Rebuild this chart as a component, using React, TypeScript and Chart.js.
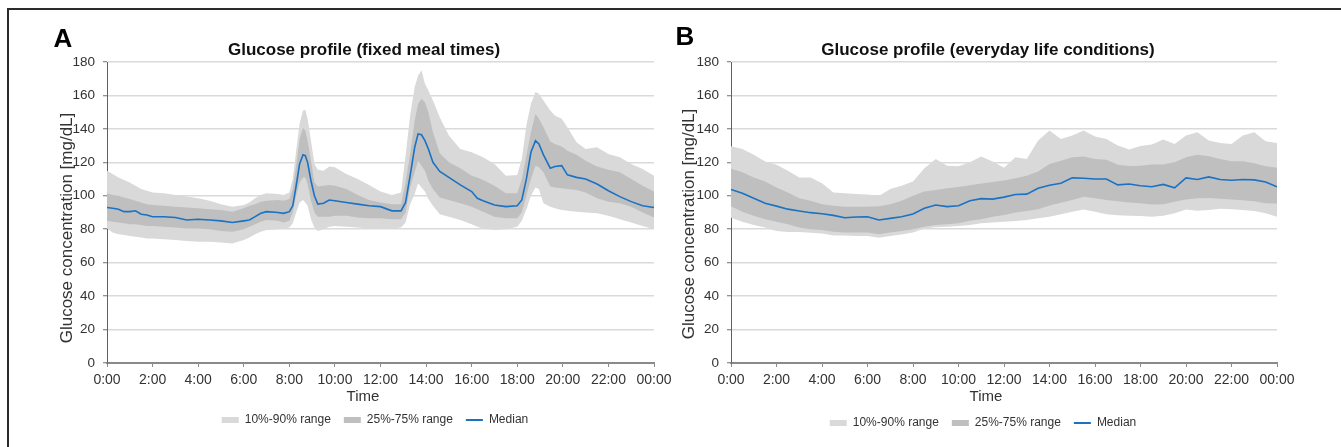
import React, { useEffect, useRef } from "react";
import { Chart, registerables } from "chart.js";

Chart.register(...registerables);

// ---------- Panel A: fixed meal times ----------
const timesA = [
  0, 0.25, 0.5, 0.75, 1, 1.25, 1.5, 1.75, 2, 2.5, 3, 3.5, 4, 4.5, 5, 5.5, 6, 6.25, 6.5, 6.75,
  7, 7.5, 7.75, 8, 8.15, 8.3, 8.45, 8.6, 8.7, 8.8, 8.95, 9.1, 9.25, 9.5, 9.75, 10, 10.5, 11, 11.5, 12,
  12.5, 12.9, 13.1, 13.3, 13.5, 13.65, 13.8, 13.95, 14.1, 14.3, 14.6, 15, 15.5, 16, 16.25, 16.5, 17, 17.5, 18, 18.2,
  18.4, 18.6, 18.8, 18.95, 19.15, 19.45, 19.65, 19.95, 20.2, 20.6, 21, 21.5, 22, 22.5, 23, 23.5, 24,
];
const p10A = [
  80.5, 78, 77, 76.5, 76, 75.5, 75, 74.5, 74.5, 74, 73.5, 73, 72.5, 72.5, 72, 71.5, 73.5, 75, 77, 78.5,
  79.5, 80, 80.5, 81, 83.5, 90, 96, 97.5, 96, 94, 86, 81, 79, 80, 81.5, 82, 81.5, 81, 80.5, 80.5,
  80.5, 81, 84, 95, 101, 107.5, 105, 102.5, 98, 94, 89, 87.5, 85.5, 83, 81.5, 80.5, 79.5, 80, 81.5, 85,
  92, 100, 105, 104, 95.5, 93.5, 92.5, 91.5, 91, 90.5, 90, 89.5, 88, 86, 84, 82, 80,
];
const p25A = [
  85, 84.5, 84, 83.5, 83, 83, 82.5, 82, 82, 81.5, 81, 80.5, 80.5, 80, 79, 78.5, 80, 81.5, 83, 84.5,
  85.5, 85, 84, 85, 90, 100, 108, 111, 111, 107, 97, 90, 87.5, 87.5, 87.5, 88, 88, 87, 86.5, 86.5,
  86, 86, 90, 105, 114, 121, 118, 115, 109, 104, 99, 97.5, 95.5, 93.5, 92, 90.5, 87.5, 86.5, 86.5, 90,
  100, 110, 118, 117, 114, 105.5, 105, 104.5, 104, 103.5, 102, 98.5, 96.5, 95.5, 93.5, 90, 87,
];
const medianA = [
  93, 92.5, 92, 90.5, 90.5, 91, 89, 88.5, 87.5, 87.5, 87, 85.5, 86, 85.5, 85, 84, 85, 85.5, 87.5, 89.5,
  90.5, 90, 89.5, 90.5, 94, 106, 119, 124.5, 124, 120, 109, 100, 95, 95.5, 97.5, 97, 96, 95, 94, 93.5,
  91, 91, 96, 112, 129, 137, 136.5, 133, 128, 120, 114.5, 111, 106.5, 102.5, 98.5, 97, 94.5, 93.5, 94, 97.5,
  110, 126, 133, 131, 124.5, 116.5, 117.5, 118, 112.5, 111, 110, 107, 103, 99.5, 96.5, 94, 93,
];
const p75A = [
  101.5, 100.5, 100, 99, 98, 97, 96, 95, 94.5, 94, 93.5, 93, 92.5, 92, 91.5, 90.5, 92.5, 94, 95, 96.5,
  97, 97.5, 97, 98, 104, 118, 134, 140.5, 139, 133, 121, 108, 105.5, 106, 106.5, 106, 104, 100.5, 97.5, 96,
  95, 95, 108, 125, 145, 155, 158, 156, 150, 138, 125.5, 120, 116.5, 112, 111, 109.5, 106, 101.5, 101.5, 110,
  124, 138, 149, 146, 141, 132.5, 131, 129.5, 127, 124.5, 121, 117.5, 115.5, 114, 110, 106, 102.5,
];
const p90A = [
  115, 113, 111, 109.5, 108, 106, 104, 103, 102, 101.5, 100.5, 99.5, 98.5, 97, 95, 93.5, 94.5, 96, 98.5, 100.5,
  101.5, 101, 100.5, 102, 110, 127, 143, 151, 151.5, 146, 133, 119, 115.5, 115, 117.5, 117, 113, 110, 106.5, 102.5,
  100.5, 102, 124, 148, 165, 172, 175, 167, 163, 157, 147, 136, 128, 126, 124.5, 123, 119, 112, 112.5, 122,
  142, 155, 162, 161, 157, 151, 148, 146, 141, 132, 128, 129, 125, 123, 119, 116, 112,
];

// ---------- Panel B: everyday life conditions ----------
const timesB = [
  0, 0.5, 1, 1.5, 2, 2.5, 3, 3.5, 4, 4.5, 5, 5.5, 6, 6.5, 7, 7.5, 8, 8.5, 9, 9.5,
  10, 10.5, 11, 11.5, 12, 12.5, 13, 13.5, 14, 14.5, 15, 15.5, 16, 16.5, 17, 17.5, 18, 18.5, 19, 19.5,
  20, 20.5, 21, 21.5, 22, 22.5, 23, 23.5, 24,
];
const p10B = [
  86.9, 84.5, 82.5, 81, 79, 78.3, 78.3, 77.9, 77.5, 76.3, 76.3, 76, 75.9, 74.9, 75.9, 76.9, 78, 80.5, 81.2, 81.5,
  81.9, 82.5, 83.5, 84, 84.5, 84.9, 85.5, 86.5, 87.5, 89, 90.5, 91.8, 90.5, 89, 88.3, 88, 87.9, 87.5, 88, 89.5,
  91.8, 91, 91.5, 92.2, 92, 91.5, 90.9, 89.5, 87.5,
];
const p25B = [
  93.8, 90.5, 88, 86, 84.5, 83, 81, 80, 79.5, 78.5, 78, 78, 78, 77, 78, 79, 80, 81.5, 82.5, 83,
  83.5, 85, 86, 87.5, 88.5, 90, 90.9, 92, 94.2, 95.8, 97.5, 99.4, 98.5, 97.5, 96.8, 96, 95.5, 94.8, 95, 96.5,
  97.8, 98.5, 98.7, 98.2, 97.8, 97.4, 96.8, 95.5, 95.4,
];
const medianB = [
  103.8, 101.5, 98.5, 95.5, 93.8, 92, 90.9, 89.9, 89.3, 88.3, 86.9, 87.3, 87.5, 85.5, 86.5, 87.5, 89.1, 92.5, 94.5, 93.5,
  94, 97, 98.3, 98, 99.2, 100.8, 101, 104.5, 106.3, 107.5, 110.7, 110.5, 110, 110, 106.5, 107, 106, 105.4, 106.8, 104.8,
  110.7, 109.7, 111.3, 109.7, 109.3, 109.7, 109.5, 108.2, 105.4,
];
const p75B = [
  116.1, 114, 111, 108.5, 105, 102, 98.5, 97, 95, 94, 93.4, 93.4, 93.4, 93.8, 95, 97, 100, 102.5, 103.5, 104.5,
  105.2, 106.3, 107.3, 108.3, 109.2, 110.5, 112, 114.5, 119, 121, 123, 123.5, 122, 121.5, 118.5, 117.8, 118, 118.7, 118.7, 120,
  123, 124.5, 123.7, 122, 120.7, 120.7, 119.5, 117.7, 116.7,
];
const p90B = [
  129.6, 128, 124.5, 120.5, 118.5, 115, 111, 111, 107.5, 102, 101.5, 101, 100.8, 99.8, 104, 106, 108.5, 116.5, 122, 118,
  117.7, 120, 123.5, 120.5, 116.7, 123, 122, 133, 139, 134, 136, 139, 135.5, 134, 130, 127.6, 129.8, 130.6, 133.6, 131,
  136, 138, 133, 131.5, 131, 136, 138, 132.6, 131.6,
];

// ---------- Axis / legend text ----------
const xTickLabels = ["0:00", "2:00", "4:00", "6:00", "8:00", "10:00", "12:00", "14:00", "16:00", "18:00", "20:00", "22:00", "00:00"];
const legendLabels = ["10%-90% range", "25%-75% range", "Median"];
const yAxisTitle = "Glucose concentration [mg/dL]";
const xAxisTitle = "Time";

const COLORS = {
  outer: "#d9d9d9",
  inner: "#bfbfbf",
  median: "#1a72c4",
  grid: "#dadada",
  text: "#333333",
};
const FONT = "'Liberation Sans', Arial, Helvetica, sans-serif";

const decorPlugin = {
  id: "decor",
  afterDraw(chart: any, _args: any, opts: any) {
    const ctx = chart.ctx as CanvasRenderingContext2D;
    const ox = opts.offsetX;
    ctx.save();
    ctx.textAlign = "center";
    ctx.textBaseline = "middle";
    ctx.fillStyle = "#000";
    ctx.font = `bold 26px ${FONT}`;
    ctx.fillText(opts.letter, opts.letterX - ox, opts.letterY);
    ctx.fillStyle = "#111";
    ctx.font = `bold 17px ${FONT}`;
    ctx.fillText(opts.title, opts.titleX - ox, opts.titleY);
    ctx.fillStyle = COLORS.text;
    ctx.font = `15px ${FONT}`;
    ctx.fillText(xAxisTitle, opts.xTitleX - ox, opts.xTitleY);
    ctx.translate(opts.yTitleX - ox, opts.yTitleY);
    ctx.rotate(-Math.PI / 2);
    ctx.font = `17px ${FONT}`;
    ctx.fillText(yAxisTitle, 0, 0);
    ctx.restore();
  },
};

type PanelCfg = {
  times: number[];
  p10: number[];
  p25: number[];
  med: number[];
  p75: number[];
  p90: number[];
  left: number;
  width: number;
  plotLeft: number;
  plotRight: number;
  xScaleHeight: number;
  padBottom: number;
  decor: any;
};

function toXY(times: number[], vals: number[]) {
  return times.map((t, i) => ({ x: t, y: vals[i] }));
}

function Panel({ cfg }: { cfg: PanelCfg }) {
  const ref = useRef<HTMLCanvasElement>(null);
  useEffect(() => {
    if (!ref.current) return;
    const band = { pointRadius: 0, borderWidth: 0, tension: 0, yAxisID: "y" };
    const chart = new Chart(ref.current, {
      type: "line",
      data: {
        datasets: [
          { label: "Median", data: toXY(cfg.times, cfg.med), borderColor: COLORS.median, borderWidth: 1.6, pointRadius: 0, fill: false, tension: 0, yAxisID: "y" },
          { label: "p75", data: toXY(cfg.times, cfg.p75), ...band, borderColor: COLORS.inner, backgroundColor: COLORS.inner, fill: "+1" },
          { label: "p25", data: toXY(cfg.times, cfg.p25), ...band, borderColor: COLORS.inner, fill: false },
          { label: "p90", data: toXY(cfg.times, cfg.p90), ...band, borderColor: COLORS.outer, backgroundColor: COLORS.outer, fill: "+1" },
          { label: "p10", data: toXY(cfg.times, cfg.p10), ...band, borderColor: COLORS.outer, fill: false },
        ] as any,
      },
      options: {
        animation: false,
        responsive: false,
        devicePixelRatio: 1,
        layout: { padding: { top: 62, bottom: cfg.padBottom, left: 0, right: 0 } },
        scales: {
          x: {
            type: "linear",
            min: 0,
            max: 24,
            afterFit: (s: any) => { s.height = cfg.xScaleHeight; },
            afterBuildTicks: (s: any) => { s.ticks = xTickLabels.map((_, i) => ({ value: i * 2 })); },
            ticks: {
              autoSkip: false,
              maxRotation: 0,
              padding: 5,
              color: COLORS.text,
              font: { family: FONT, size: 14 },
              callback: (v: any) => xTickLabels[Math.round(Number(v) / 2)],
            },
            grid: { drawOnChartArea: false, drawTicks: true, tickLength: 4, tickColor: "#8a8a8a", tickWidth: 1 },
            border: { color: "#8a8a8a", width: 2 },
          },
          y: {
            type: "linear",
            position: "left",
            min: 0,
            max: 180,
            afterFit: (s: any) => { s.width = cfg.plotLeft - cfg.left; },
            ticks: { stepSize: 20, padding: 8, color: COLORS.text, font: { family: FONT, size: 13.5 } },
            grid: { color: COLORS.grid, lineWidth: 1.5, drawTicks: true, tickLength: 4, tickColor: "#707070", tickWidth: 1 },
            border: { color: "#606060", width: 1 },
          },
          yR: {
            type: "linear",
            position: "right",
            display: true,
            afterFit: (s: any) => { s.width = cfg.left + cfg.width - cfg.plotRight; },
            ticks: { display: false },
            grid: { display: false },
            border: { display: false },
          },
        },
        plugins: {
          title: { display: false },
          tooltip: { enabled: false },
          legend: {
            display: true,
            position: "bottom",
            labels: {
              usePointStyle: true,
              pointStyleWidth: 17,
              boxHeight: 6,
              padding: 13,
              color: COLORS.text,
              font: { family: FONT, size: 12 },
              generateLabels: () => [
                { text: legendLabels[0], fillStyle: COLORS.outer, strokeStyle: COLORS.outer, lineWidth: 0, pointStyle: "rect", hidden: false, fontColor: COLORS.text, datasetIndex: 3 },
                { text: legendLabels[1], fillStyle: COLORS.inner, strokeStyle: COLORS.inner, lineWidth: 0, pointStyle: "rect", hidden: false, fontColor: COLORS.text, datasetIndex: 1 },
                { text: legendLabels[2], fillStyle: COLORS.median, strokeStyle: COLORS.median, lineWidth: 2, pointStyle: "line", hidden: false, fontColor: COLORS.text, datasetIndex: 0 },
              ],
            },
          },
          decor: { ...cfg.decor, offsetX: cfg.left },
        } as any,
      },
      plugins: [decorPlugin],
    });
    return () => chart.destroy();
  }, []);
  return (
    <canvas
      ref={ref}
      width={cfg.width}
      height={447}
      style={{ position: "absolute", left: cfg.left, top: 0, width: cfg.width, height: 447 }}
    />
  );
}

const panelA: PanelCfg = {
  times: timesA, p10: p10A, p25: p25A, med: medianA, p75: p75A, p90: p90A,
  left: 35, width: 680, plotLeft: 107, plotRight: 654, xScaleHeight: 38, padBottom: 11,
  decor: {
    letter: "A", letterX: 63, letterY: 40,
    title: "Glucose profile (fixed meal times)", titleX: 364, titleY: 50,
    xTitleX: 363, xTitleY: 397,
    yTitleX: 67, yTitleY: 228,
  },
};

const panelB: PanelCfg = {
  times: timesB, p10: p10B, p25: p25B, med: medianB, p75: p75B, p90: p90B,
  left: 663, width: 640, plotLeft: 731, plotRight: 1277, xScaleHeight: 41, padBottom: 8,
  decor: {
    letter: "B", letterX: 685, letterY: 38,
    title: "Glucose profile (everyday life conditions)", titleX: 988, titleY: 50,
    xTitleX: 986, xTitleY: 397,
    yTitleX: 689, yTitleY: 224,
  },
};

export default function App() {
  return (
    <div style={{ position: "fixed", left: 0, top: 0, width: 1341, height: 447, background: "#fff", overflow: "hidden" }}>
      <div style={{ position: "absolute", left: 7, top: 8, width: 1334, height: 2, background: "#2b2b2b" }} />
      <div style={{ position: "absolute", left: 7, top: 8, width: 2, height: 439, background: "#2b2b2b" }} />
      <Panel cfg={panelA} />
      <Panel cfg={panelB} />
    </div>
  );
}
